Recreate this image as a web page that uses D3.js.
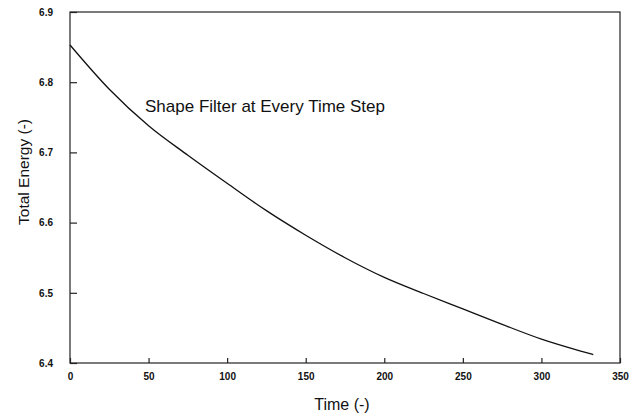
<!DOCTYPE html>
<html>
<head>
<meta charset="utf-8">
<script src="https://cdn.jsdelivr.net/npm/d3@7"></script>
<style>
  body { margin: 0; background: #fff; }
  text { font-family: "Liberation Sans", Arial, sans-serif; fill: #111; }
</style>
</head>
<body>
<svg id="chart"></svg>
<script>
// values
const time = [0, 25, 50, 75, 100, 125, 150, 175, 200, 225, 250, 275, 300, 325, 333];
const energy = [6.853, 6.790, 6.738, 6.696, 6.656, 6.617, 6.582, 6.550, 6.522, 6.499, 6.477, 6.455, 6.434, 6.417, 6.412];
const xTicks = [0, 50, 100, 150, 200, 250, 300, 350];
const yTicks = [6.4, 6.5, 6.6, 6.7, 6.8, 6.9];

var margin = {top: 12, right: 20, bottom: 54, left: 70},
  width = 640 - margin.left - margin.right,
  height = 417 - margin.top - margin.bottom;

var svg = d3.select("#chart")
  .attr("width", 640)
  .attr("height", 417)
  .append("g")
  .attr("transform", "translate(" + margin.left + "," + margin.top + ")");

var x = d3.scaleLinear().domain([0, 350]).range([0, width]);
var y = d3.scaleLinear().domain([6.4, 6.9]).range([height, 0]);

// frame
svg.append("rect")
  .attr("width", width)
  .attr("height", height)
  .attr("fill", "none")
  .attr("stroke", "#222")
  .attr("stroke-width", 1.2);

var xAxis = svg.append("g")
  .attr("transform", "translate(0," + height + ")")
  .call(d3.axisBottom(x).tickValues(xTicks).tickSize(-5).tickPadding(10).tickFormat(d3.format("d")));

var yAxis = svg.append("g")
  .call(d3.axisLeft(y).tickValues(yTicks).tickSize(-7).tickPadding(17).tickFormat(d3.format(".1f")));

[xAxis, yAxis].forEach(function(a) {
  a.select(".domain").remove();
  a.selectAll(".tick line").attr("stroke", "#222").attr("stroke-width", 1.2);
  a.selectAll(".tick text")
    .style("font-size", "10px")
    .style("font-weight", "bold")
    .attr("fill", "#111");
});

var line = d3.line()
  .x((d, i) => x(time[i]))
  .y(d => y(d))
  .curve(d3.curveMonotoneX);

svg.append("path")
  .datum(energy)
  .attr("fill", "none")
  .attr("stroke", "#111")
  .attr("stroke-width", 1.3)
  .attr("d", line);

svg.append("text")
  .attr("x", 75)
  .attr("y", 100)
  .style("font-size", "17px")
  .text("Shape Filter at Every Time Step");

svg.append("text")
  .attr("x", width / 2 - 3)
  .attr("y", height + 47)
  .attr("text-anchor", "middle")
  .style("font-size", "16px")
  .text("Time (-)");

svg.append("text")
  .attr("transform", "translate(" + (-41) + "," + 160 + ") rotate(-90)")
  .attr("text-anchor", "middle")
  .style("font-size", "15.5px")
  .text("Total Energy (-)");
</script>
</body>
</html>
